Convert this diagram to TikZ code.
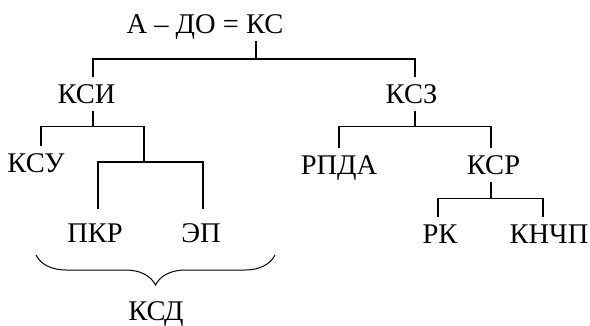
\documentclass[tikz,border=0pt]{standalone}
\usepackage{fontspec}
\setmainfont{Liberation Serif}
\usetikzlibrary{decorations.pathreplacing}
\begin{document}
\begin{tikzpicture}[x=1pt,y=-1pt,
  lbl/.style={inner sep=0pt, outer xsep=0pt, outer ysep=7.5pt,
    text height=18.5pt, text depth=0pt, anchor=base,
    font=\fontsize{28.5}{32}\selectfont},
  lowlbl/.style={lbl, outer ysep=14.5pt},
  link/.style={line width=1.1pt},
  bracestyle/.style={line width=1pt,
    decorate, decoration={brace, amplitude=30pt}}]
\useasboundingbox (0,0) rectangle (590,325);

% labels
\node[lbl] (t)     at (205,33)  {А – ДО = КС};
\node[lbl] (ksi)   at (86.5,103) {КСИ};
\node[lbl] (ksz)   at (411.5,103) {КСЗ};
\node[lbl] (ksu)   at (36,172)  {КСУ};
\node[lbl] (rpda)  at (339,174) {РПДА};
\node[lbl] (ksr)   at (493.5,174) {КСР};
\node[lowlbl] (pkr) at (95,242) {ПКР};
\node[lowlbl] (ep)  at (201,242) {ЭП};
\node[lbl] (rk)    at (440,243) {РК};
\node[lbl] (knchp) at (549,243) {КНЧП};
\node[lbl] (ksd)   at (156,320) {КСД};

% root: the drop under "КС"
\coordinate (root) at (256,41);
\coordinate (jA) at (256,59);
\draw[link] (root) -- (jA);
\draw[link] ([xshift=6.5pt]ksi.north) |- (jA) -| ([xshift=3.5pt]ksz.north);

% КСИ subtree
\draw[link] ([xshift=6.5pt]ksi.south) -- ++(0,16) coordinate (jB);
\coordinate (jC) at (144,162);
\draw[link] ([xshift=5pt]ksu.north) |- (jB) -| (jC);
\draw[link] ([xshift=3pt]pkr.north) |- (jC) -| ([xshift=2pt]ep.north);

% КСЗ subtree
\draw[link] ([xshift=3.5pt]ksz.south) -- ++(0,16) coordinate (jD);
\draw[link] (rpda.north) |- (jD) -| ([xshift=-2.5pt]ksr.north);

% КСР subtree
\draw[link] ([xshift=-2.5pt]ksr.south) -- ++(0,17) coordinate (jE);
\draw[link] ([xshift=-2pt]rk.north) |- (jE) -| ([xshift=-6pt]knchp.north);

% brace grouping ПКР and ЭП
\coordinate (brR) at (275,255);
\coordinate (brL) at (36,255);
\draw[bracestyle] (brR) -- (brL);
\end{tikzpicture}
\end{document}
